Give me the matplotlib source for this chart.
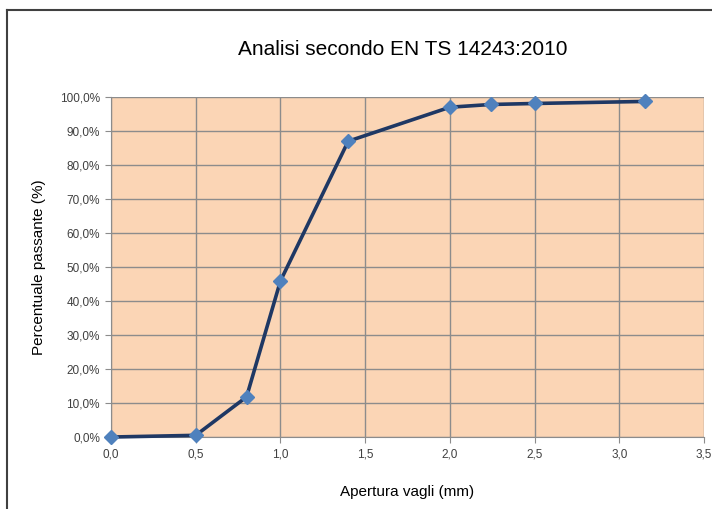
import matplotlib.pyplot as plt
from matplotlib.lines import Line2D
from matplotlib.ticker import FuncFormatter, MultipleLocator

apertura = [0.0, 0.5, 0.8, 1.0, 1.4, 2.0, 2.24, 2.5, 3.15]
passante = [0.0, 0.5, 11.8, 45.9, 87.0, 97.0, 97.8, 98.1, 98.7]

plt.rcParams['font.family'] = ['Liberation Sans', 'DejaVu Sans']

fig = plt.figure(figsize=(7.12, 5.09), dpi=100)
ax = fig.add_axes([0.1559, 0.1414, 0.8329, 0.668])
ax.set_facecolor('#fbd5b5')

ax.plot(apertura, passante, color='#1f3864', lw=2.6, marker='D', ms=7,
        mfc='#4f81bd', mec='#4f81bd', zorder=3, clip_on=False)

ax.set_xlim(0, 3.5)
ax.set_ylim(0, 100)
ax.xaxis.set_major_locator(MultipleLocator(0.5))
ax.yaxis.set_major_locator(MultipleLocator(10))
ax.xaxis.set_major_formatter(FuncFormatter(lambda v, p: f"{v:.1f}".replace('.', ',')))
ax.yaxis.set_major_formatter(FuncFormatter(lambda v, p: f"{v:.1f}%".replace('.', ',')))
ax.grid(True, color='#8c8c8c', lw=1)
ax.set_axisbelow(True)
for s in ['top', 'right']:
    ax.spines[s].set_visible(False)
for s in ['left', 'bottom']:
    ax.spines[s].set_color('#8c8c8c')
ax.tick_params(colors='#8c8c8c', labelcolor='#404040', labelsize=8.5, length=4, direction='out')
ax.tick_params(axis='x', pad=4)
ax.tick_params(axis='y', pad=4)

ax.set_xlabel('Apertura vagli (mm)', fontsize=11, labelpad=18)
ax.set_ylabel('Percentuale passante (%)', fontsize=11, labelpad=10)
fig.text(0.566, 0.903, 'Analisi secondo EN TS 14243:2010', fontsize=15, ha='center', va='center')

# chart border
fig.add_artist(Line2D([0.0105, 0.0105], [0, 0.981], color='#404040', lw=1.5, transform=fig.transFigure))
fig.add_artist(Line2D([0.0105, 1], [0.981, 0.981], color='#404040', lw=1.5, transform=fig.transFigure))

fig.savefig('out.png', dpi=100)
